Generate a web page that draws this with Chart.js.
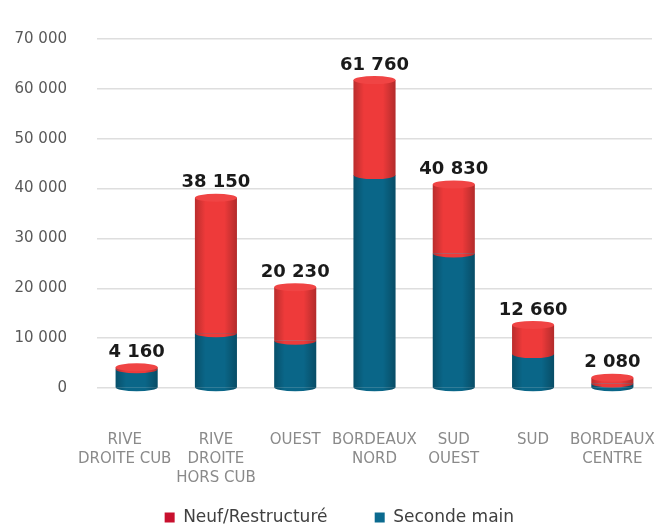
<!DOCTYPE html>
<html>
<head>
<meta charset="utf-8">
<script src="https://cdn.jsdelivr.net/npm/chart.js@4"></script>
<style>
  html, body { margin: 0; padding: 0; background: #fff; }
  #wrap { width: 660px; height: 528px; }
</style>
</head>
<body>
<div id="wrap"><canvas id="chart" width="660" height="528"></canvas></div>
<script>
const categories = [
    ['RIVE', 'DROITE CUB'],
    ['RIVE', 'DROITE', 'HORS CUB'],
    'OUEST',
    ['BORDEAUX', 'NORD'],
    ['SUD', 'OUEST'],
    'SUD',
    ['BORDEAUX', 'CENTRE']
];
const secondeMain = [3760, 11000, 9500, 42700, 27000, 6800, 900];
const neufRestructure = [400, 27150, 10730, 19060, 13830, 5860, 1180];
const totals = [4160, 38150, 20230, 61760, 40830, 12660, 2080];
const yTicks = [0, 10000, 20000, 30000, 40000, 50000, 60000, 70000];

const RED = '#ee3a3a';
const BLUE = '#0a6688';

const fmt = v => String(v).replace(/\B(?=(\d{3})+(?!\d))/g, ' ');

// first label sits a bit left of its bar in the original
const tickLabels = categories.map((c, i) => {
    if (i !== 0) return c;
    return c.map(line => line + '\u00a0'.repeat(5));
});

// cylinder look: side shading, rounded ends, top cap, total label
const cylinders = {
    id: 'cylinders',
    afterDatasetsDraw(chart) {
        const ctx = chart.ctx;
        const low = chart.getDatasetMeta(0).data;
        const high = chart.getDatasetMeta(1).data;
        ctx.save();
        low.forEach((bar, i) => {
            const top = high[i];
            const rx = bar.width / 2;
            const ry = 4;
            const left = bar.x - rx;
            // rounded bottom
            ctx.fillStyle = BLUE;
            ctx.beginPath();
            ctx.ellipse(bar.x, bar.base, rx, ry, 0, 0, Math.PI);
            ctx.fill();
            // red lower edge over blue
            ctx.fillStyle = RED;
            ctx.beginPath();
            ctx.ellipse(top.x, top.base, rx, ry, 0, 0, Math.PI);
            ctx.fill();
            // side shading
            const g = ctx.createLinearGradient(left, 0, left + bar.width, 0);
            g.addColorStop(0, 'rgba(0,0,0,0.22)');
            g.addColorStop(0.25, 'rgba(0,0,0,0)');
            g.addColorStop(0.7, 'rgba(0,0,0,0)');
            g.addColorStop(1, 'rgba(0,0,0,0.25)');
            ctx.fillStyle = g;
            ctx.beginPath();
            ctx.moveTo(left, top.y);
            ctx.lineTo(left, bar.base);
            ctx.ellipse(bar.x, bar.base, rx, ry, 0, Math.PI, 0, true);
            ctx.lineTo(left + bar.width, top.y);
            ctx.closePath();
            ctx.fill();
            // top cap
            ctx.fillStyle = '#f04444';
            ctx.beginPath();
            ctx.ellipse(top.x, top.y, rx, ry, 0, 0, Math.PI * 2);
            ctx.fill();
            // total label
            ctx.fillStyle = '#1a1a1a';
            ctx.font = 'bold 18px "DejaVu Sans"';
            ctx.textAlign = 'center';
            ctx.textBaseline = 'bottom';
            ctx.fillText(fmt(totals[i]), top.x, top.y - 6);
        });
        ctx.restore();
    }
};

const ctx = document.getElementById('chart').getContext('2d');

new Chart(ctx, {
    type: 'bar',
    data: {
        labels: tickLabels,
        datasets: [{
            label: 'Seconde main',
            data: secondeMain,
            backgroundColor: BLUE,
            borderWidth: 0
        }, {
            label: 'Neuf/Restructuré',
            data: neufRestructure,
            backgroundColor: RED,
            borderWidth: 0
        }]
    },
    options: {
        responsive: false,
        animation: false,
        layout: { padding: { top: 28, right: 8, left: 0, bottom: -8 } },
        datasets: {
            bar: { barPercentage: 0.53, categoryPercentage: 1 }
        },
        plugins: {
            legend: {
                position: 'bottom',
                fullSize: false,
                reverse: true,
                labels: {
                    color: '#404040',
                    font: { family: 'DejaVu Sans', size: 17 },
                    boxWidth: 10,
                    boxHeight: 10,
                    padding: 4,
                    generateLabels(chart) {
                        const items = Chart.defaults.plugins.legend.labels.generateLabels(chart);
                        items.forEach(it => {
                            if (it.text === 'Neuf/Restructuré') {
                                it.fillStyle = '#c8102e';
                                it.text = it.text + '\u00a0'.repeat(8);
                            } else {
                                it.fillStyle = '#0b6a8f';
                                it.text = it.text + '\u00a0'.repeat(13);
                            }
                            it.strokeStyle = 'rgba(0,0,0,0)';
                            it.lineWidth = 0;
                        });
                        return items;
                    }
                }
            },
            tooltip: { enabled: false }
        },
        scales: {
            x: {
                stacked: true,
                grid: { display: false },
                border: { display: false },
                afterFit(scale) {
                    scale.paddingLeft = 0;
                    scale.paddingRight = 0;
                    scale.height = 117;
                },
                ticks: {
                    color: '#8a8a8a',
                    font: { family: 'DejaVu Sans', size: 15, lineHeight: 1.25 },
                    padding: 35,
                    maxRotation: 0,
                    autoSkip: false
                }
            },
            y: {
                stacked: true,
                min: 0,
                max: 70000,
                afterFit(scale) { scale.width = 97; },
                afterBuildTicks(scale) { scale.ticks = yTicks.map(v => ({ value: v })); },
                grid: { color: '#dedede', lineWidth: 1.5, drawTicks: false },
                border: { display: false },
                ticks: {
                    color: '#595959',
                    font: { family: 'DejaVu Sans', size: 15 },
                    padding: 30,
                    callback: v => fmt(v)
                }
            }
        }
    },
    plugins: [cylinders]
});
</script>
</body>
</html>
